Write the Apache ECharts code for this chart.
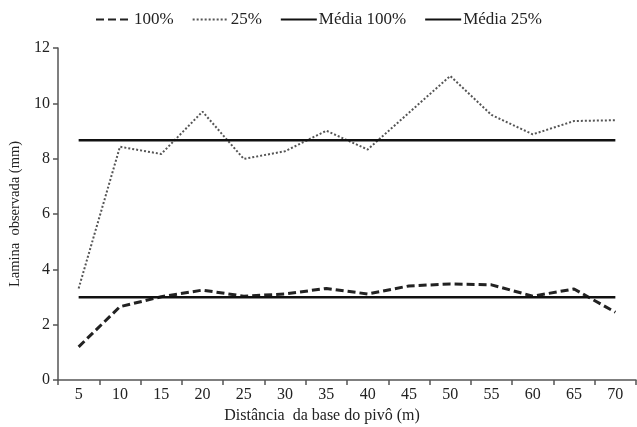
<!DOCTYPE html>
<html>
<head>
<meta charset="utf-8">
<script src="https://cdn.jsdelivr.net/npm/echarts@6/dist/echarts.min.js"></script>
<style>
html,body{margin:0;padding:0;background:#fff;}
#c{width:637px;height:427px;}
</style>
</head>
<body>
<div id="c"></div>
<script>
var categories = ['5','10','15','20','25','30','35','40','45','50','55','60','65','70'];
var s100 = [1.2, 2.65, 3.01, 3.25, 3.03, 3.11, 3.31, 3.11, 3.4, 3.47, 3.44, 3.03, 3.29, 2.45];
var s25 = [3.31, 8.43, 8.17, 9.7, 7.99, 8.27, 9.01, 8.33, 9.66, 10.99, 9.58, 8.88, 9.36, 9.39];
var media100 = [2.99, 2.99, 2.99, 2.99, 2.99, 2.99, 2.99, 2.99, 2.99, 2.99, 2.99, 2.99, 2.99, 2.99];
var media25 = [8.67, 8.67, 8.67, 8.67, 8.67, 8.67, 8.67, 8.67, 8.67, 8.67, 8.67, 8.67, 8.67, 8.67];
var seriesNames = ['100%', '25%', 'Média 100%', 'Média 25%'];
var yTicks = { min: 0, max: 12, interval: 2 };

var font = 'Liberation Serif';
var chart = echarts.init(document.getElementById('c'), null, {renderer: 'canvas'});
chart.setOption({
  animation: false,
  backgroundColor: '#fff',
  legend: {
    top: 6,
    left: 'center',
    itemWidth: 36,
    itemHeight: 12,
    itemGap: 18,
    itemStyle: { opacity: 0 },
    textStyle: { fontFamily: font, fontSize: 17, color: '#222', padding: [0, 0, 0, -3] },
    data: seriesNames
  },
  grid: { left: 58, right: 1, top: 48, bottom: 47, containLabel: false, outerBoundsMode: 'none' },
  xAxis: {
    type: 'category',
    data: categories,
    boundaryGap: true,
    name: 'Distância  da base do pivô (m)',
    nameLocation: 'middle',
    nameGap: 25,
    nameTextStyle: { fontFamily: font, fontSize: 16, color: '#222', padding: [0, 50, 0, 0] },
    axisLine: { lineStyle: { color: '#555', width: 1.5 } },
    axisTick: { show: true, alignWithLabel: false, length: 5, lineStyle: { color: '#555', width: 1.5 } },
    axisLabel: { fontFamily: font, fontSize: 16, color: '#222', margin: 7 },
    splitLine: { show: false }
  },
  yAxis: {
    type: 'value',
    min: yTicks.min,
    max: yTicks.max,
    interval: yTicks.interval,
    name: 'Lamina  observada (mm)',
    nameLocation: 'middle',
    nameGap: 31,
    nameTextStyle: { fontFamily: font, fontSize: 14.5, color: '#222' },
    axisLine: { show: true, lineStyle: { color: '#555', width: 1.5 } },
    axisTick: { show: true, length: 5, lineStyle: { color: '#555', width: 1.5 } },
    axisLabel: { fontFamily: font, fontSize: 16, color: '#222', margin: 8 },
    splitLine: { show: false }
  },
  series: [
    {
      name: seriesNames[0], type: 'line', data: s100, symbol: 'none',
      lineStyle: { color: '#222', width: 3, type: [8, 4] },
      itemStyle: { color: '#222' }
    },
    {
      name: seriesNames[1], type: 'line', data: s25, symbol: 'none',
      lineStyle: { color: '#555', width: 2, type: [2, 2] },
      itemStyle: { color: '#555' }
    },
    {
      name: seriesNames[2], type: 'line', data: media100, symbol: 'none',
      lineStyle: { color: '#111', width: 2.5, type: 'solid' },
      itemStyle: { color: '#111' }
    },
    {
      name: seriesNames[3], type: 'line', data: media25, symbol: 'none',
      lineStyle: { color: '#111', width: 2.5, type: 'solid' },
      itemStyle: { color: '#111' }
    }
  ]
});
</script>
</body>
</html>
